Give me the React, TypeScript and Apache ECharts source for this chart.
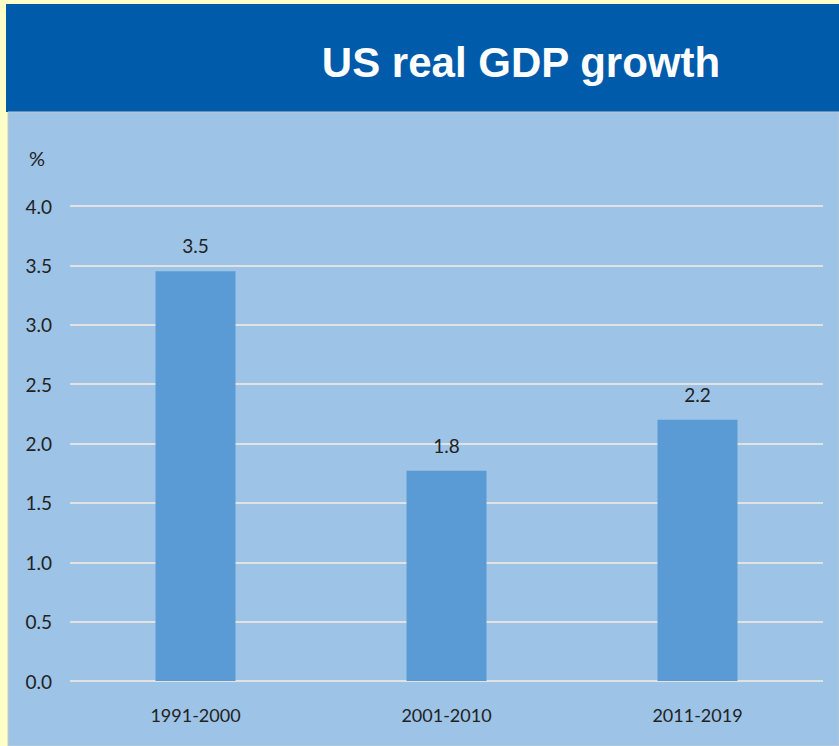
import React, { useEffect, useRef } from "react";
import * as echarts from "echarts";

const categories = ["1991-2000", "2001-2010", "2011-2019"];
const growth = [3.45, 1.77, 2.2];
const yTicks = { min: 0, max: 4, interval: 0.5 };
const titleText = "US real GDP growth";
const unitText = "%";

export default function App() {
  const ref = useRef<HTMLDivElement>(null);
  useEffect(() => {
    if (!ref.current) return;
    const chart = echarts.init(ref.current, null, { renderer: "svg" });
    chart.setOption({
      animation: false,
      backgroundColor: "#FFFFC8",
      graphic: [
        { type: "rect", shape: { x: 6, y: 4, width: 833, height: 108 }, style: { fill: "#005BAA" }, z: -10 },
        { type: "rect", shape: { x: 8, y: 112, width: 831, height: 634 }, style: { fill: "#9DC3E6", stroke: "#C8C8C8", lineWidth: 1 }, z: -10 },
        {
          type: "text",
          x: 521,
          y: 62,
          style: {
            text: titleText,
            fill: "#FFFFFF",
            font: "bold 42px 'Liberation Sans', Arial, sans-serif",
            textAlign: "center",
            textVerticalAlign: "middle",
          },
        },
        {
          type: "text",
          x: 37,
          y: 158,
          style: {
            text: unitText,
            fill: "#222222",
            font: "20px Lato, sans-serif",
            textAlign: "center",
            textVerticalAlign: "middle",
          },
        },
      ],
      grid: { left: 70, right: 16, top: 206, bottom: 65, containLabel: false },
      xAxis: {
        type: "category",
        data: categories,
        axisLine: { show: false },
        axisTick: { show: false },
        axisLabel: { color: "#222222", fontSize: 18, fontFamily: "Lato, sans-serif", margin: 25 },
      },
      yAxis: {
        type: "value",
        min: yTicks.min,
        max: yTicks.max,
        interval: yTicks.interval,
        axisLine: { show: false },
        axisTick: { show: false },
        axisLabel: {
          color: "#222222",
          fontSize: 19,
          fontFamily: "Lato, sans-serif",
          margin: 18,
          formatter: (v: number) => v.toFixed(1),
        },
        splitLine: { lineStyle: { color: "#E2E2E2", width: 2 } },
      },
      series: [
        {
          type: "bar",
          data: growth,
          barWidth: 80,
          itemStyle: { color: "#5B9BD5" },
          label: {
            show: true,
            position: "top",
            distance: 16,
            color: "#222222",
            fontSize: 19,
            fontFamily: "Lato, sans-serif",
            formatter: (p: any) => (Math.round(p.value * 10) / 10).toFixed(1),
          },
        },
      ],
    });
    return () => chart.dispose();
  }, []);
  return (
    <div style={{ position: "fixed", left: 0, top: 0, width: 839, height: 746 }}>
      <div ref={ref} style={{ width: 839, height: 746 }} />
    </div>
  );
}
